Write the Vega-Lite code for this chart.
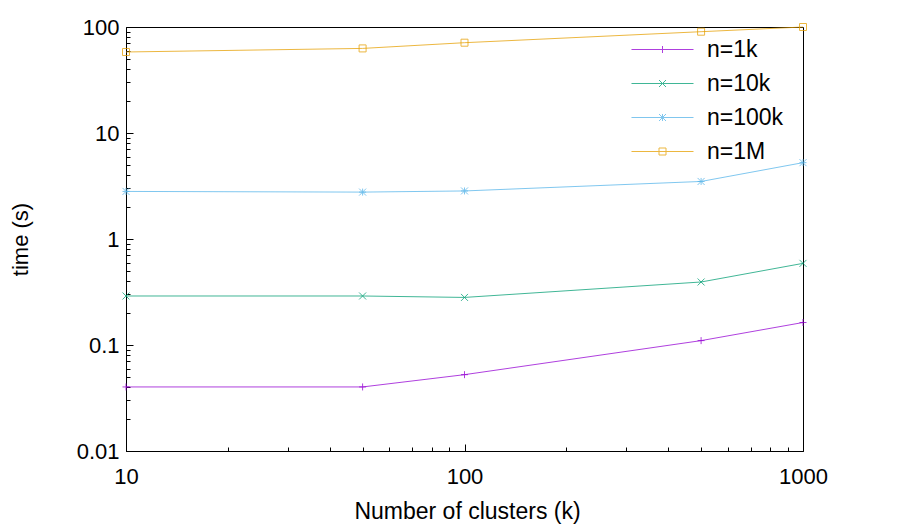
{
  "$schema": "https://vega.github.io/schema/vega-lite/v6.json",
  "autosize": {"type": "none"},
  "padding": {"left": 126, "top": 27, "right": 97, "bottom": 74},
  "width": 677,
  "height": 424,
  "background": "white",
  "config": {
    "view": {"stroke": "black", "strokeWidth": 1},
    "font": "Liberation Sans",
    "axis": {
      "labelFont": "Liberation Sans", "labelFontSize": 22, "labelColor": "black",
      "titleFont": "Liberation Sans", "titleFontSize": 23, "titleColor": "black", "titleFontWeight": "normal",
      "domainColor": "black", "tickColor": "black", "grid": false
    }
  },
  "data": {"values": [
    {"k": 10, "series": "n=1k", "time": 0.0402},
    {"k": 50, "series": "n=1k", "time": 0.0402},
    {"k": 100, "series": "n=1k", "time": 0.0525},
    {"k": 500, "series": "n=1k", "time": 0.110},
    {"k": 1000, "series": "n=1k", "time": 0.163},
    {"k": 10, "series": "n=10k", "time": 0.290},
    {"k": 50, "series": "n=10k", "time": 0.290},
    {"k": 100, "series": "n=10k", "time": 0.281},
    {"k": 500, "series": "n=10k", "time": 0.393},
    {"k": 1000, "series": "n=10k", "time": 0.589},
    {"k": 10, "series": "n=100k", "time": 2.81},
    {"k": 50, "series": "n=100k", "time": 2.77},
    {"k": 100, "series": "n=100k", "time": 2.84},
    {"k": 500, "series": "n=100k", "time": 3.49},
    {"k": 1000, "series": "n=100k", "time": 5.25},
    {"k": 10, "series": "n=1M", "time": 58.1},
    {"k": 50, "series": "n=1M", "time": 62.8},
    {"k": 100, "series": "n=1M", "time": 71.1},
    {"k": 500, "series": "n=1M", "time": 90.3},
    {"k": 1000, "series": "n=1M", "time": 100}
  ]},
  "encoding": {
    "x": {
      "field": "k", "type": "quantitative",
      "scale": {"type": "log", "domain": [10, 1000], "nice": false},
      "axis": {
        "values": [10,20,30,40,50,60,70,80,90,100,200,300,400,500,600,700,800,900,1000],
        "labelExpr": "indexof([10,100,1000], datum.value) >= 0 ? '' + datum.value : ''",
        "tickSize": {"condition": {"test": "indexof([10,100,1000], datum.value) >= 0", "value": -7}, "value": -4},
        "labelPadding": 22, "labelFlush": false, "labelOverlap": false, "labelDx": 4,
        "title": "Number of clusters (k)", "titleX": 341, "titleY": 67, "titleBaseline": "alphabetic"
      }
    },
    "y": {
      "field": "time", "type": "quantitative",
      "scale": {"type": "log", "domain": [0.01, 100], "nice": false},
      "axis": {
        "values": [0.01,0.02,0.03,0.04,0.05,0.06,0.07,0.08,0.09,0.1,0.2,0.3,0.4,0.5,0.6,0.7,0.8,0.9,1,2,3,4,5,6,7,8,9,10,20,30,40,50,60,70,80,90,100],
        "labelExpr": "indexof([0.01,0.1,1,10,100], datum.value) >= 0 ? '' + datum.value : ''",
        "tickSize": {"condition": {"test": "indexof([0.01,0.1,1,10,100], datum.value) >= 0", "value": -7}, "value": -4},
        "labelPadding": 14, "labelFlush": false, "labelOverlap": false,
        "title": "time (s)", "titleX": -106, "titleY": 212, "titleAngle": -90, "titleAlign": "center", "titleBaseline": "middle", "titleFontSize": 22
      }
    },
    "color": {
      "field": "series", "type": "nominal",
      "scale": {"domain": ["n=1k", "n=10k", "n=100k", "n=1M"], "range": ["#9400d3", "#009e73", "#56b4e9", "#e69f00"]},
      "legend": {
        "orient": "none", "legendX": 525, "legendY": 11, "title": null,
        "labelFont": "Liberation Sans", "labelFontSize": 23, "labelColor": "black",
        "symbolSize": 49, "symbolStrokeWidth": 1, "labelOffset": 33, "rowPadding": 10, "padding": 0,
        "symbolOpacity": 0.75,
        "encode": {
          "symbols": {"update": {
            "shape": {"signal": "datum.value == 'n=1k' ? 'M-8.86,0H8.86M0,-1V1' : datum.value == 'n=10k' ? 'M-8.86,0H8.86M-1,-1L1,1M-1,1L1,-1' : datum.value == 'n=100k' ? 'M-8.86,0H8.86M0,-1V1M-1,-1L1,1M-1,1L1,-1' : 'M-8.86,0H8.86M-1,-1H1V1H-1Z'"},
            "stroke": {"scale": "color", "field": "value"},
            "fill": {"value": "transparent"}
          }}
        }
      }
    }
  },
  "layer": [
    {"mark": {"type": "line", "strokeWidth": 1, "opacity": 0.75}},
    {
      "transform": [{"filter": "datum.series == 'n=1k'"}],
      "mark": {"type": "point", "filled": false, "strokeWidth": 1, "size": 49, "opacity": 0.75, "shape": "M-1,0H1M0,-1V1"}
    },
    {
      "transform": [{"filter": "datum.series == 'n=10k'"}],
      "mark": {"type": "point", "filled": false, "strokeWidth": 1, "size": 49, "opacity": 0.75, "shape": "M-1,-1L1,1M-1,1L1,-1"}
    },
    {
      "transform": [{"filter": "datum.series == 'n=100k'"}],
      "mark": {"type": "point", "filled": false, "strokeWidth": 1, "size": 49, "opacity": 0.75, "shape": "M-1,0H1M0,-1V1M-1,-1L1,1M-1,1L1,-1"}
    },
    {
      "transform": [{"filter": "datum.series == 'n=1M'"}],
      "mark": {"type": "point", "filled": false, "strokeWidth": 1, "size": 49, "opacity": 0.75, "shape": "M-1,-1H1V1H-1Z"}
    }
  ]
}
